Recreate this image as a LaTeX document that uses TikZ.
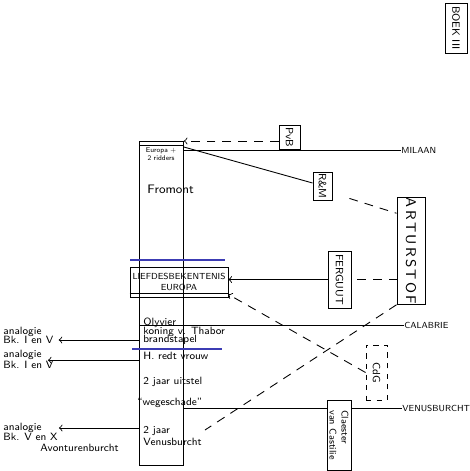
\documentclass[tikz,border=0pt]{standalone}
\usepackage{tikz}
\usetikzlibrary{calc,positioning}
\definecolor{pen}{RGB}{60,60,180}
\tikzstyle{arrow} = [->,>=to]
\tikzstyle{dline} = [dash pattern=on 5pt off 4pt]
\tikzset{
  lbl/.style={font=\sffamily\fontsize{6}{7}\selectfont, inner sep=0pt, anchor=west},
  plaats/.style={font=\sffamily\fontsize{5}{6}\selectfont, inner sep=0pt, anchor=west},
  vakje/.style={draw, inner sep=0pt, font=\sffamily\fontsize{6}{7}\selectfont},
  blauw/.style={line width=1.2pt, pen},
}
\begin{document}
\begin{tikzpicture}[x=0.02cm,y=-0.02cm,line width=0.5pt]
	\useasboundingbox (0,0) rectangle (470,471);
	% kolom
	\node[draw, minimum width=0.88cm, minimum height=6.48cm, inner sep=0pt, anchor=north west] (col) at (139,141) {};
	\draw ($(col.north west)+(0,4)$) -- ($(col.north east)+(0,4)$);
	\node[font=\sffamily\fontsize{4}{4.5}\selectfont, inner sep=0pt, align=center] (europa) at (161,154) {Europa +\\2 ridders};
	\node[lbl, font=\sffamily\fontsize{7}{8}\selectfont] (fromont) at (147,189) {Fromont};
	\node[vakje, minimum width=1.96cm, minimum height=0.6cm, align=center, font=\sffamily\fontsize{5}{6}\selectfont] (liefde) at (179,282) {LIEFDESBEKENTENIS\\EUROPA};
	\draw ($(liefde.south west)+(0,-4)$) -- ($(liefde.south east)+(0,-4)$);
	\draw[blauw] (130,260) -- (225,260);
	\node[lbl] (olyvier) at (143,323) {Olyvier};
	\node[lbl] (thabor) at (143,332) {koning v. Thabor};
	\node[lbl] (brand) at (143,340) {brandstapel};
	\draw[blauw] (132,349) -- (222,349);
	\node[lbl] (vrouw) at (143,356) {H. redt vrouw};
	\node[lbl] (uitstel) at (143,382) {2 jaar uitstel};
	\node[lbl] (wege) at (137,403) {``wegeschade''};
	\node[lbl, align=left] (venus2) at (143,436) {2 jaar\\Venusburcht};
	% vakjes rechts
	\node[vakje, minimum width=0.44cm, minimum height=1.0cm] (boek) at (456,28) {\rotatebox{-90}{BOEK III}};
	\node[vakje, minimum width=0.42cm, minimum height=0.48cm] (pvb) at (289.5,137) {\rotatebox{-90}{PvB}};
	\node[vakje, minimum width=0.38cm, minimum height=0.56cm] (rm) at (322.5,186) {\rotatebox{-90}{R\&M}};
	\node[vakje, minimum width=0.56cm, minimum height=1.96cm, font=\sffamily\fontsize{8}{9}\selectfont] (artur) at (411,251) {\rotatebox{-90}{A\,R\,T\,U\,R\,S\,T\,O\,F}};
	\node[vakje, minimum width=0.46cm, minimum height=1.14cm] (ferguut) at (339.5,279.5) {\rotatebox{-90}{FERGUUT}};
	\node[vakje, dashed, minimum width=0.42cm, minimum height=1.1cm] (cdg) at (376.5,372.5) {\rotatebox{-90}{CdG}};
	\node[vakje, minimum width=0.48cm, minimum height=1.4cm, font=\sffamily\fontsize{5.5}{6}\selectfont] (claester) at (339,435) {\rotatebox{-90}{\shortstack[l]{Claester\\van Castilie}}};
	% plaatsen
	\node[plaats] (milaan) at (401,150) {MILAAN};
	\node[plaats] (calabrie) at (404,325) {CALABRIE};
	\node[plaats] (venus) at (402,408) {VENUSBURCHT};
	% analogie links
	\node[lbl] (an1) at (3,332) {analogie};
	\node[lbl] (bk1) at (3,340) {Bk. I en V};
	\node[lbl] (an2) at (3,355) {analogie};
	\node[lbl] (bk2) at (3,365) {Bk. I en V};
	\node[lbl] (an3) at (3,428) {analogie};
	\node[lbl] (bk3) at (3,437) {Bk. V en X};
	\node[lbl] (avontuur) at (40,448) {Avonturenburcht};
	% verbindingen
	\draw[dline,arrow] (pvb.west |- col.north) -- (col.north east);
	\draw (col.east |- milaan) -- (milaan.west);
	\draw ($(col.north east)+(0,6)$) -- ($(rm.west)+(0,-3)$);
	\draw[dline] ($(rm.south east)+(17,-2)$) -- ($(artur.north west)+(0,16)$);
	\draw[dline] ($(ferguut.east)+(6,0)$) -- (artur.west |- ferguut.east);
	\draw[arrow] (ferguut.west) -- (liefde.east |- ferguut.west);
	\coordinate (kruis) at (205,430);
	\draw[dline] (artur.south west) -- (kruis);
	\draw[dline,arrow] (cdg.west) -- ($(liefde.south east)+(0,-3)$);
	\draw (col.west |- calabrie) -- (calabrie.west);
	\draw (col.east |- venus) -- (claester.west |- venus);
	\draw (claester.east |- venus) -- (venus.west);
	\draw[arrow] (col.west |- bk1) -- ($(bk1.east)+(5,0)$);
	\draw[arrow] (col.west |- an2.south) -- ($(an2.south east)+(6,0)$);
	\draw[arrow] (col.west |- an3) -- ($(an3.east)+(17,0)$);
\end{tikzpicture}
\end{document}
